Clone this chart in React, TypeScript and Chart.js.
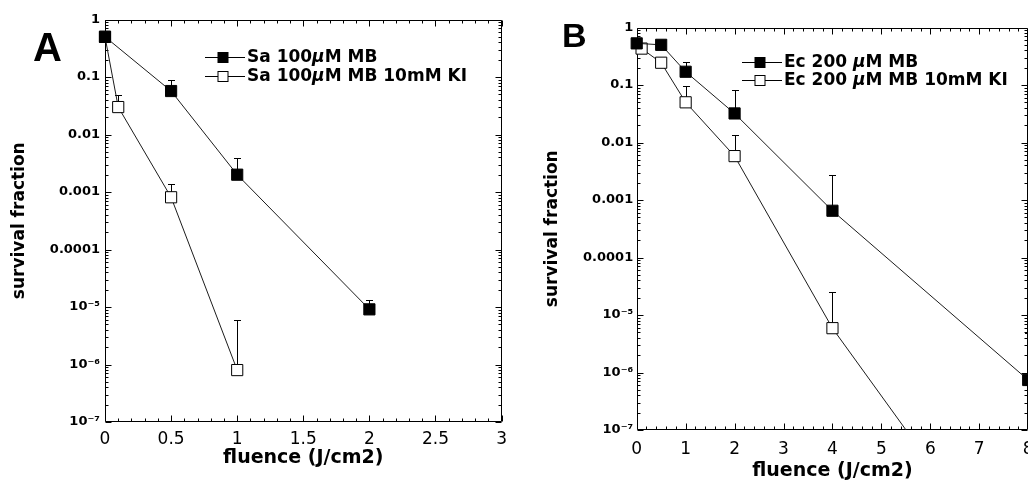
import React, { useEffect, useRef } from "react";
import { Chart, registerables } from "chart.js";

Chart.register(...registerables);

// ---------- Panel A data (S. aureus) ----------
const saMBFluence = [0, 0.5, 1, 2];
const saMBSurvival = [0.5, 0.057, 0.002, 9.1e-6];
const saMBErrHigh = [null, 0.089, 0.0039, 1.3e-5];

const saKIFluence = [0, 0.1, 0.5, 1];
const saKISurvival = [0.5, 0.03, 0.00081, 8e-7];
const saKIErrHigh = [null, 0.049, 0.0014, 5.9e-6];

// ---------- Panel B data (E. coli) ----------
const ecMBFluence = [0, 0.5, 1, 2, 4, 8];
const ecMBSurvival = [0.53, 0.5, 0.17, 0.032, 0.00065, 7.4e-7];
const ecMBErrHigh = [null, null, 0.25, 0.082, 0.0027, 4.9e-6];

const ecKIFluence = [0.1, 0.5, 1, 2, 4, 6];
const ecKISurvival = [0.43, 0.244, 0.05, 0.0058, 5.9e-6, 2.6e-8];
const ecKIErrHigh = [null, null, 0.096, 0.0135, 2.5e-5, null];

// ---------- Axis ticks ----------
const yTickValues = [1, 0.1, 0.01, 0.001, 0.0001, 1e-5, 1e-6, 1e-7];
const yTickLabels = ["1", "0.1", "0.01", "0.001", "0.0001", "10⁻⁵", "10⁻⁶", "10⁻⁷"];
const xTickValuesA = [0, 0.5, 1, 1.5, 2, 2.5, 3];
const xTickLabelsA = ["0", "0.5", "1", "1.5", "2", "2.5", "3"];
const xTickValuesB = [0, 1, 2, 3, 4, 5, 6, 7, 8];
const xTickLabelsB = ["0", "1", "2", "3", "4", "5", "6", "7", "8"];

const seriesLabelsA = ["Sa 100µM MB", "Sa 100µM MB 10mM KI"];
const seriesLabelsB = ["Ec 200 µM MB", "Ec 200 µM MB 10mM KI"];
const xTitle = "fluence (J/cm2)";
const yTitle = "survival fraction";

const FONT = "'DejaVu Sans', sans-serif";

type Series = { label: string; x: number[]; y: number[]; err: (number | null)[]; filled: boolean };
type Panel = {
  letter: string;
  letterFont: string;
  letterX: number;
  letterY: number;
  series: Series[];
  xMax: number;
  xTicks: number[];
  xLabels: string[];
  xMinor: number;
  yAxisWidth: number;
  xAxisHeight: number;
  padTop: number;
  padRight: number;
  yLabelPad: number;
  xLabelPad: number;
  yTitlePad: number;
  xTitlePad: number;
  legendX: number;
  legendY: number;
  legendGap: number;
  showRightFrame: boolean;
};

const panelA: Panel = {
  letter: "A",
  letterFont: "bold 40px 'Liberation Sans', Arial, sans-serif",
  letterX: 33,
  letterY: 61,
  series: [
    { label: seriesLabelsA[0], x: saMBFluence, y: saMBSurvival, err: saMBErrHigh, filled: true },
    { label: seriesLabelsA[1], x: saKIFluence, y: saKISurvival, err: saKIErrHigh, filled: false },
  ],
  xMax: 3,
  xTicks: xTickValuesA,
  xLabels: xTickLabelsA,
  xMinor: 0.1,
  yAxisWidth: 105,
  xAxisHeight: 59,
  padTop: 19.5,
  padRight: 6.5,
  yLabelPad: 5,
  xLabelPad: 7,
  yTitlePad: 11.5,
  xTitlePad: 13.5,
  legendX: 205,
  legendY: 57,
  legendGap: 19,
  showRightFrame: true,
};

const panelB: Panel = {
  letter: "B",
  letterFont: "bold 34px 'Liberation Sans', Arial, sans-serif",
  letterX: 562,
  letterY: 47,
  series: [
    { label: seriesLabelsB[0], x: ecMBFluence, y: ecMBSurvival, err: ecMBErrHigh, filled: true },
    { label: seriesLabelsB[1], x: ecKIFluence, y: ecKISurvival, err: ecKIErrHigh, filled: false },
  ],
  xMax: 8,
  xTicks: xTickValuesB,
  xLabels: xTickLabelsB,
  xMinor: 0.2,
  yAxisWidth: 122.7,
  xAxisHeight: 51,
  padTop: 27.5,
  padRight: 45.8,
  yLabelPad: 3.5,
  xLabelPad: 9,
  yTitlePad: 29.8,
  xTitlePad: 0,
  legendX: 742,
  legendY: 62,
  legendGap: 18,
  showRightFrame: true,
};

function labelFor(values: number[], labels: string[], v: number, log: boolean) {
  for (let i = 0; i < values.length; i++) {
    const d = log ? Math.abs(Math.log10(values[i]) - Math.log10(v)) : Math.abs(values[i] - v);
    if (d < 1e-6) return labels[i];
  }
  return "";
}

function makeChart(canvas: HTMLCanvasElement, p: Panel, offsetX: number) {
  const datasets: any[] = p.series.map((s) => ({
    label: s.label,
    data: s.x.map((x, i) => ({ x, y: s.y[i] })),
    errorHigh: s.err,
    filledMarker: s.filled,
    borderColor: "#1c1c1c",
    borderWidth: 1,
    pointStyle: "rect",
    pointRadius: 7.9,
    pointBackgroundColor: s.filled ? "#000" : "#fff",
    pointBorderColor: "#000",
    pointBorderWidth: 1,
    fill: false,
    tension: 0,
    clip: { left: 20, right: 20, top: 20, bottom: 0 },
  }));

  const framePlugin = {
    id: "frameTicks",
    beforeDatasetsDraw(chart: any) {
      const { ctx, chartArea: a, scales } = chart;
      const xs = scales.x, ys = scales.y;
      ctx.save();
      ctx.strokeStyle = "#000";
      ctx.lineWidth = 1;
      const L = Math.round(a.left) + 0.5, R = Math.round(a.right) - 0.5;
      const T = Math.round(a.top) + 0.5, B = Math.round(a.bottom) - 0.5;
      ctx.beginPath();
      ctx.moveTo(L, T); ctx.lineTo(R, T);
      ctx.moveTo(L, B); ctx.lineTo(R, B);
      ctx.moveTo(L, T); ctx.lineTo(L, B);
      if (p.showRightFrame) { ctx.moveTo(R, T); ctx.lineTo(R, B); }
      // x ticks
      const nMinor = Math.round(p.xMax / p.xMinor);
      for (let k = 0; k <= nMinor; k++) {
        const v = k * p.xMinor;
        const isMajor = p.xTicks.some((t) => Math.abs(t - v) < 1e-6);
        const len = isMajor ? 6 : 3;
        const px = Math.round(xs.getPixelForValue(v)) + 0.5;
        ctx.moveTo(px, B); ctx.lineTo(px, B - len);
        ctx.moveTo(px, T); ctx.lineTo(px, T + len);
      }
      // y ticks
      for (let e = -7; e <= 0; e++) {
        const base = Math.pow(10, e);
        const py = Math.round(ys.getPixelForValue(base)) + 0.5;
        ctx.moveTo(L, py); ctx.lineTo(L + 6, py);
        ctx.moveTo(R, py); ctx.lineTo(R - 6, py);
        if (e < 0) {
          for (let m = 2; m <= 9; m++) {
            const pm = Math.round(ys.getPixelForValue(base * m)) + 0.5;
            ctx.moveTo(L, pm); ctx.lineTo(L + 3, pm);
            ctx.moveTo(R, pm); ctx.lineTo(R - 3, pm);
          }
        }
      }
      ctx.stroke();

      // error bars (upper only)
      ctx.beginPath();
      chart.data.datasets.forEach((ds: any) => {
        (ds.errorHigh || []).forEach((hi: number | null, i: number) => {
          if (hi == null) return;
          const pt = ds.data[i];
          const px = Math.round(xs.getPixelForValue(pt.x)) + 0.5;
          const py = ys.getPixelForValue(pt.y);
          const ph = Math.round(ys.getPixelForValue(hi)) + 0.5;
          ctx.moveTo(px, py); ctx.lineTo(px, ph);
          ctx.moveTo(px - 3.5, ph); ctx.lineTo(px + 3.5, ph);
        });
      });
      ctx.stroke();
      ctx.restore();
    },
    afterDraw(chart: any) {
      const { ctx } = chart;
      ctx.save();
      // panel letter
      ctx.fillStyle = "#000";
      ctx.font = p.letterFont;
      ctx.textBaseline = "alphabetic";
      ctx.textAlign = "left";
      ctx.fillText(p.letter, p.letterX - offsetX, p.letterY);
      // legend
      const normal = `bold 17px ${FONT}`;
      const italic = `italic bold 17px ${FONT}`;
      chart.data.datasets.forEach((ds: any, i: number) => {
        const y = Math.round(p.legendY + i * p.legendGap) + 0.5;
        const x0 = p.legendX - offsetX;
        ctx.strokeStyle = "#000";
        ctx.lineWidth = 1;
        ctx.beginPath();
        ctx.moveTo(x0, y); ctx.lineTo(x0 + 40, y);
        ctx.stroke();
        const sx = x0 + 18, s = 10;
        ctx.fillStyle = ds.filledMarker ? "#000" : "#fff";
        ctx.fillRect(sx - s / 2, y - s / 2, s, s);
        ctx.strokeRect(sx - s / 2, y - s / 2, s, s);
        ctx.fillStyle = "#000";
        ctx.textBaseline = "middle";
        let tx = x0 + 42;
        const parts = String(ds.label).split("µ");
        parts.forEach((part: string, k: number) => {
          ctx.font = normal;
          ctx.fillText(part, tx, y);
          tx += ctx.measureText(part).width;
          if (k < parts.length - 1) {
            ctx.font = italic;
            ctx.fillText("µ", tx, y);
            tx += ctx.measureText("µ").width;
          }
        });
      });
      ctx.restore();
    },
  };

  return new Chart(canvas, {
    type: "line",
    data: { datasets },
    options: {
      responsive: false,
      animation: false,
      events: [],
      layout: { padding: { left: 0, right: p.padRight, top: p.padTop, bottom: 0 } },
      plugins: { legend: { display: false }, tooltip: { enabled: false } },
      scales: {
        x: {
          type: "linear",
          min: 0,
          max: p.xMax,
          grid: { display: false, drawTicks: false },
          border: { display: false },
          afterBuildTicks: (scale: any) => {
            scale.ticks = p.xTicks.map((v) => ({ value: v }));
          },
          afterFit: (scale: any) => {
            scale.height = p.xAxisHeight;
          },
          ticks: {
            autoSkip: false,
            maxRotation: 0,
            padding: p.xLabelPad,
            color: "#000",
            font: { family: FONT, size: 17 },
            callback: (v: any) => labelFor(p.xTicks, p.xLabels, Number(v), false),
          },
          title: {
            display: true,
            text: xTitle,
            color: "#000",
            font: { family: FONT, size: 19, weight: "bold", lineHeight: 1 },
            padding: { top: 0, bottom: p.xTitlePad },
          },
        },
        y: {
          type: "logarithmic",
          min: 1e-7,
          max: 1,
          grid: { display: false, drawTicks: false },
          border: { display: false },
          afterBuildTicks: (scale: any) => {
            scale.ticks = yTickValues.map((v) => ({ value: v }));
          },
          afterFit: (scale: any) => {
            scale.width = p.yAxisWidth;
          },
          ticks: {
            autoSkip: false,
            padding: p.yLabelPad,
            color: "#000",
            font: { family: FONT, size: 13, weight: "bold" },
            callback: (v: any) => labelFor(yTickValues, yTickLabels, Number(v), true),
          },
          title: {
            display: true,
            text: yTitle,
            color: "#000",
            font: { family: FONT, size: 17, weight: "bold", lineHeight: 1 },
            padding: { top: p.yTitlePad, bottom: 0 },
          },
        },
      },
    } as any,
    plugins: [framePlugin],
  });
}

export default function App() {
  const refA = useRef<HTMLCanvasElement>(null);
  const refB = useRef<HTMLCanvasElement>(null);

  useEffect(() => {
    const a = makeChart(refA.current!, panelA, 0);
    const b = makeChart(refB.current!, panelB, 514);
    return () => {
      a.destroy();
      b.destroy();
    };
  }, []);

  return (
    <div
      style={{
        position: "fixed",
        left: 0,
        top: 0,
        width: 1028,
        height: 481,
        overflow: "hidden",
        background: "#fff",
      }}
    >
      <canvas
        ref={refA}
        width={514}
        height={481}
        style={{ position: "absolute", left: 0, top: 0, width: 514, height: 481 }}
      />
      <canvas
        ref={refB}
        width={560}
        height={481}
        style={{ position: "absolute", left: 514, top: 0, width: 560, height: 481 }}
      />
    </div>
  );
}
